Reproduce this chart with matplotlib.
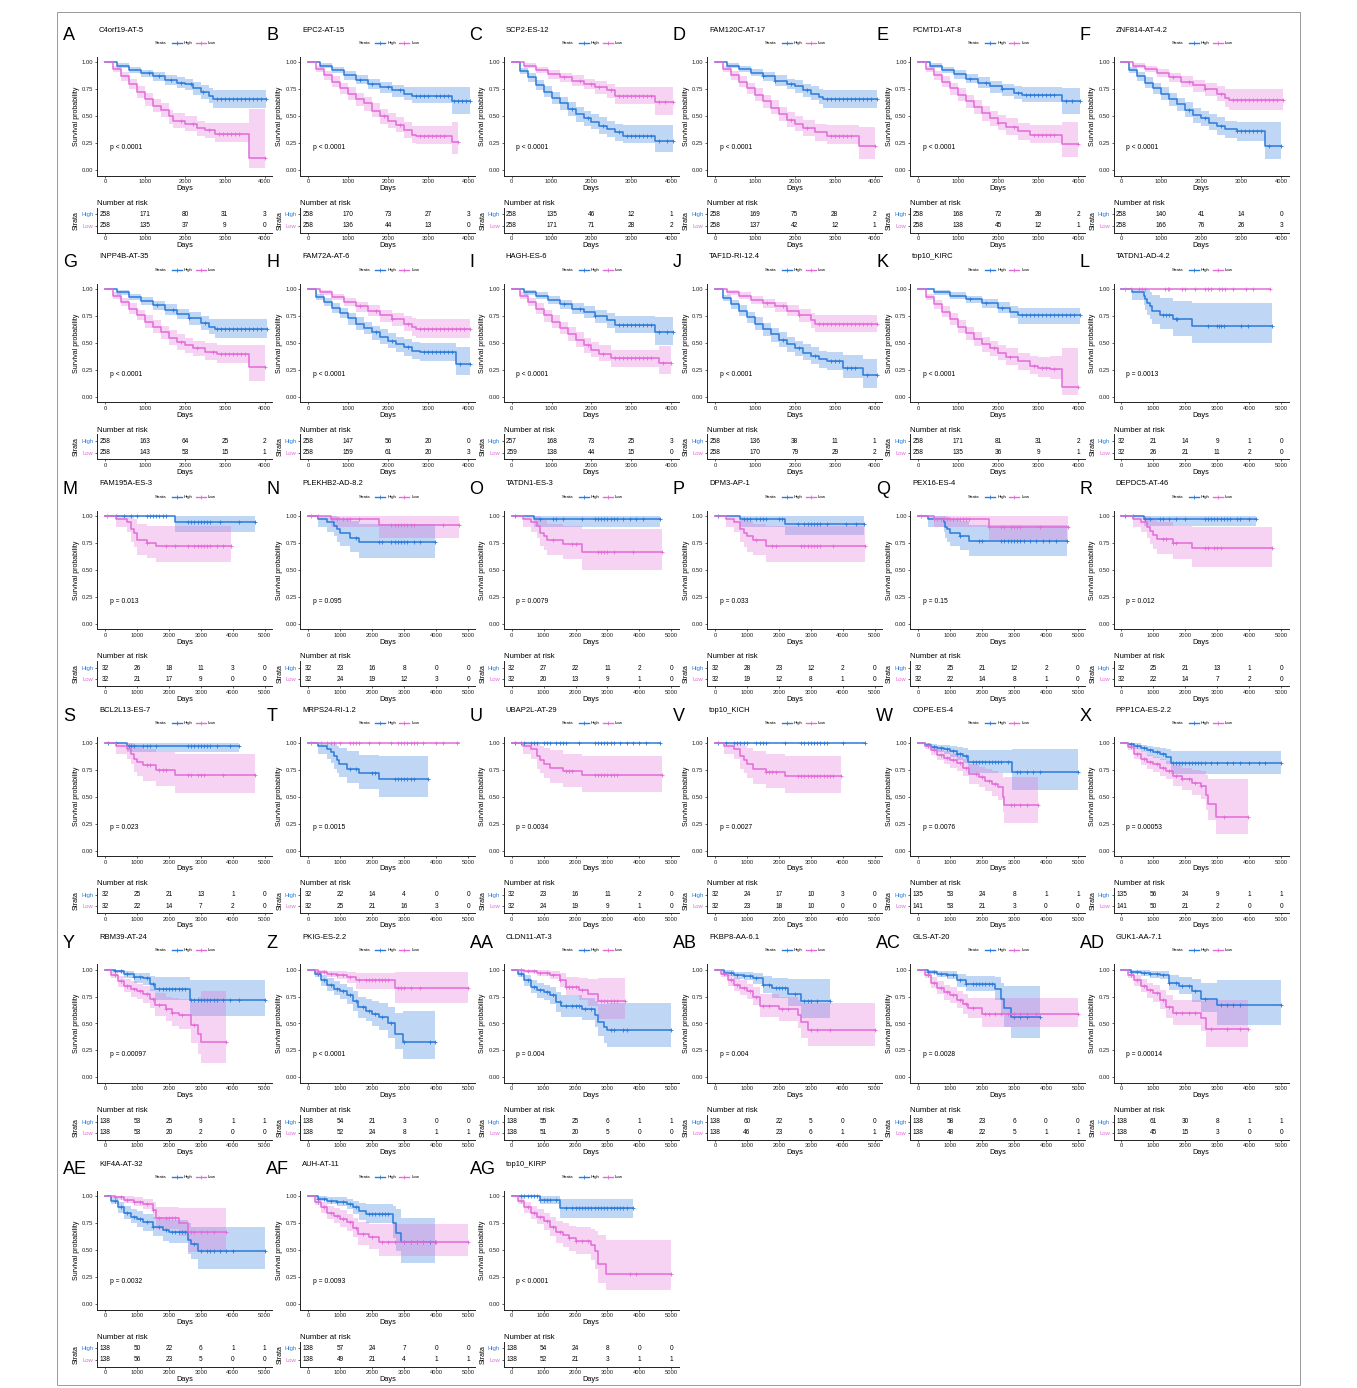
import matplotlib
matplotlib.use('Agg')
import matplotlib.pyplot as plt
from matplotlib.lines import Line2D
from matplotlib.patches import Rectangle
import numpy as np

plt.rcParams['font.family'] = ['Liberation Sans', 'DejaVu Sans']

# ---------------- panel meta data ----------------
letters = ['A','B','C','D','E','F','G','H','I','J','K','L','M','N','O','P','Q','R',
           'S','T','U','V','W','X','Y','Z','AA','AB','AC','AD','AE','AF','AG']
titles = ['C4orf19-AT-5','EPC2-AT-15','SCP2-ES-12','FAM120C-AT-17','PCMTD1-AT-8','ZNF814-AT-4.2',
          'INPP4B-AT-35','FAM72A-AT-6','HAGH-ES-6','TAF1D-RI-12.4','top10_KIRC','TATDN1-AD-4.2',
          'FAM195A-ES-3','PLEKHB2-AD-8.2','TATDN1-ES-3','DPM3-AP-1','PEX16-ES-4','DEPDC5-AT-46',
          'BCL2L13-ES-7','MRPS24-RI-1.2','UBAP2L-AT-29','top10_KICH','COPE-ES-4','PPP1CA-ES-2.2',
          'RBM39-AT-24','PKIG-ES-2.2','CLDN11-AT-3','FKBP8-AA-6.1','GLS-AT-20','GUK1-AA-7.1',
          'KIF4A-AT-32','AUH-AT-11','top10_KIRP']
pvals = ['p < 0.0001']*11 + ['p = 0.0013','p = 0.013','p = 0.095','p = 0.0079','p = 0.033',
         'p = 0.15','p = 0.012','p = 0.023','p = 0.0015','p = 0.0034','p = 0.0027','p = 0.0076',
         'p = 0.00053','p = 0.00097','p < 0.0001','p = 0.004','p = 0.004','p = 0.0028',
         'p = 0.00014','p = 0.0032','p = 0.0093','p < 0.0001']
xmax = [4000]*11 + [5000]*22

risk_high = [[258,171,80,31,3],[258,170,73,27,3],[258,135,46,12,1],[258,169,75,28,2],
             [258,168,72,28,2],[258,140,41,14,0],[258,163,64,25,2],[258,147,56,20,0],
             [257,168,73,25,3],[258,136,38,11,1],[258,171,81,31,2],[32,21,14,9,1,0],
             [32,26,18,11,3,0],[32,23,16,8,0,0],[32,27,22,11,2,0],[32,28,23,12,2,0],
             [32,25,21,12,2,0],[32,25,21,13,1,0],[32,25,21,13,1,0],[32,22,14,4,0,0],
             [32,23,16,11,2,0],[32,24,17,10,3,0],[135,53,24,8,1,1],[135,56,24,9,1,1],
             [138,53,25,9,1,1],[138,54,21,3,0,0],[138,55,25,6,1,1],[138,60,22,5,0,0],
             [138,58,23,6,0,0],[138,61,30,8,1,1],[138,50,22,6,1,1],[138,57,24,7,0,0],
             [138,54,24,8,0,0]]
risk_low = [[258,135,37,9,0],[258,136,44,13,0],[258,171,71,28,2],[258,137,42,12,1],
            [258,138,45,12,1],[258,166,76,26,3],[258,143,53,15,1],[258,159,61,20,3],
            [259,138,44,15,0],[258,170,79,29,2],[258,135,36,9,1],[32,26,21,11,2,0],
            [32,21,17,9,0,0],[32,24,19,12,3,0],[32,20,13,9,1,0],[32,19,12,8,1,0],
            [32,22,14,8,1,0],[32,22,14,7,2,0],[32,22,14,7,2,0],[32,25,21,16,3,0],
            [32,24,19,9,1,0],[32,23,18,10,0,0],[141,53,21,3,0,0],[141,50,21,2,0,0],
            [138,53,20,2,0,0],[138,52,24,8,1,1],[138,51,20,5,0,0],[138,46,23,6,1,1],
            [138,48,22,5,1,1],[138,45,15,3,0,0],[138,56,23,5,0,0],[138,49,21,4,1,1],
            [138,52,21,3,1,1]]

# ---------------- survival curves: (time, surv, lower, upper) ----------------
A_high = [(0,1,1,1),(300,.97,.95,.99),(600,.93,.90,.96),(900,.90,.86,.93),(1200,.87,.83,.91),(1500,.84,.79,.88),(1800,.81,.76,.86),(2000,.80,.74,.85),(2200,.76,.70,.82),(2400,.73,.66,.79),(2600,.69,.62,.76),(2700,.66,.58,.74),(4020,.66,.58,.74)]
A_low = [(0,1,1,1),(200,.94,.91,.97),(400,.87,.83,.91),(600,.80,.75,.85),(800,.73,.67,.78),(1000,.66,.60,.72),(1200,.60,.54,.66),(1400,.56,.49,.62),(1600,.50,.43,.56),(1700,.46,.39,.53),(2000,.43,.36,.50),(2300,.39,.32,.46),(2500,.37,.30,.44),(2750,.34,.26,.44),(3600,.11,.02,.57),(4000,.11,.02,.57)]
B_high = [(0,1,1,1),(300,.97,.95,.99),(600,.93,.90,.96),(900,.88,.84,.92),(1200,.84,.80,.88),(1500,.80,.75,.85),(1800,.77,.72,.82),(2100,.74,.68,.79),(2400,.71,.65,.77),(2600,.69,.62,.77),(3600,.64,.52,.77),(4050,.64,.52,.77)]
B_low = [(0,1,1,1),(200,.94,.91,.97),(400,.88,.84,.92),(600,.82,.77,.87),(800,.76,.71,.81),(1000,.71,.65,.77),(1200,.66,.60,.72),(1400,.62,.55,.68),(1600,.55,.49,.62),(1800,.50,.43,.57),(2000,.46,.39,.53),(2200,.42,.35,.49),(2400,.37,.30,.45),(2600,.33,.25,.41),(2700,.32,.24,.41),(3600,.26,.15,.45),(3750,.26,.15,.45)]
C_high = [(0,1,1,1),(200,.92,.89,.95),(400,.86,.82,.90),(600,.79,.74,.84),(800,.73,.68,.78),(1000,.67,.61,.73),(1200,.62,.56,.68),(1400,.57,.50,.63),(1600,.52,.45,.59),(1800,.48,.41,.55),(2000,.45,.38,.52),(2200,.41,.34,.49),(2400,.38,.31,.46),(2600,.35,.27,.43),(2800,.32,.25,.42),(3600,.27,.17,.42),(4050,.27,.17,.42)]
C_low = [(0,1,1,1),(300,.97,.95,.99),(600,.93,.90,.96),(900,.89,.85,.93),(1200,.86,.82,.90),(1500,.83,.78,.88),(1800,.80,.75,.85),(2100,.77,.71,.83),(2400,.74,.67,.80),(2600,.69,.61,.77),(3600,.63,.51,.77),(4050,.63,.51,.77)]
D_high = [(0,1,1,1),(300,.97,.95,.99),(600,.94,.91,.97),(900,.90,.87,.94),(1200,.87,.83,.91),(1500,.83,.78,.88),(1800,.80,.75,.85),(2000,.78,.72,.84),(2200,.74,.68,.80),(2400,.71,.65,.78),(2600,.68,.61,.75),(2700,.66,.58,.74),(4050,.66,.58,.74)]
D_low = [(0,1,1,1),(200,.94,.91,.97),(400,.88,.84,.92),(600,.82,.77,.87),(800,.76,.71,.81),(1000,.70,.64,.76),(1200,.64,.58,.70),(1400,.58,.52,.65),(1600,.52,.46,.59),(1800,.47,.40,.54),(2000,.43,.36,.50),(2200,.39,.32,.47),(2500,.35,.27,.43),(2800,.32,.24,.42),(3600,.22,.10,.40),(4000,.22,.10,.40)]
E_high = [(0,1,1,1),(300,.97,.95,.99),(600,.93,.90,.96),(900,.89,.85,.93),(1200,.85,.81,.89),(1500,.81,.76,.86),(1800,.78,.72,.83),(2100,.75,.69,.80),(2400,.72,.66,.78),(2600,.70,.63,.77),(3600,.64,.52,.76),(4050,.64,.52,.76)]
E_low = [(0,1,1,1),(200,.94,.91,.97),(400,.88,.84,.92),(600,.82,.77,.87),(800,.76,.70,.81),(1000,.70,.64,.76),(1200,.64,.58,.70),(1400,.59,.52,.65),(1600,.53,.46,.60),(1800,.48,.41,.55),(2000,.44,.37,.51),(2200,.40,.33,.48),(2500,.36,.28,.44),(2800,.33,.25,.42),(3600,.24,.12,.45),(4000,.24,.12,.45)]
F_high = [(0,1,1,1),(200,.93,.90,.96),(400,.87,.83,.91),(600,.81,.76,.86),(800,.76,.71,.81),(1000,.71,.65,.77),(1200,.66,.60,.72),(1400,.61,.55,.67),(1600,.56,.49,.63),(1800,.51,.44,.58),(2000,.48,.41,.55),(2200,.44,.37,.52),(2400,.41,.33,.49),(2600,.38,.30,.46),(2900,.36,.27,.45),(3600,.22,.10,.45),(4000,.22,.10,.45)]
F_low = [(0,1,1,1),(300,.97,.95,.99),(600,.94,.91,.97),(900,.90,.86,.94),(1200,.86,.82,.90),(1500,.82,.77,.87),(1800,.79,.73,.84),(2100,.75,.69,.81),(2400,.71,.64,.78),(2600,.67,.59,.75),(2700,.65,.56,.75),(4050,.65,.56,.75)]
G_high = [(0,1,1,1),(300,.97,.95,.99),(600,.93,.90,.96),(900,.89,.85,.93),(1200,.85,.81,.89),(1500,.81,.76,.86),(1800,.77,.72,.82),(2100,.73,.67,.79),(2400,.69,.62,.75),(2600,.65,.58,.72),(2750,.63,.55,.72),(4050,.63,.55,.72)]
G_low = [(0,1,1,1),(200,.94,.91,.97),(400,.88,.84,.92),(600,.82,.77,.87),(800,.76,.71,.81),(1000,.70,.64,.76),(1200,.65,.59,.71),(1400,.60,.54,.66),(1600,.55,.48,.62),(1800,.51,.44,.58),(2000,.48,.41,.55),(2200,.45,.38,.52),(2500,.42,.34,.50),(2800,.40,.32,.48),(3600,.28,.15,.48),(4000,.28,.15,.48)]
H_high = [(0,1,1,1),(200,.93,.90,.96),(400,.88,.84,.92),(600,.83,.78,.87),(800,.78,.73,.83),(1000,.73,.67,.78),(1200,.68,.62,.74),(1400,.64,.58,.70),(1600,.60,.53,.66),(1800,.56,.49,.63),(2000,.52,.45,.59),(2200,.49,.42,.56),(2400,.46,.38,.54),(2600,.43,.35,.51),(2800,.42,.33,.50),(3700,.31,.20,.46),(4050,.31,.20,.46)]
H_low = [(0,1,1,1),(300,.97,.95,.99),(600,.93,.90,.96),(900,.88,.84,.92),(1200,.84,.79,.88),(1500,.80,.75,.85),(1800,.76,.70,.81),(2100,.72,.66,.78),(2400,.68,.61,.75),(2600,.65,.57,.73),(2700,.63,.55,.72),(4050,.63,.55,.72)]
I_high = [(0,1,1,1),(300,.97,.95,.99),(600,.94,.91,.97),(900,.90,.86,.94),(1200,.86,.82,.90),(1500,.82,.77,.87),(1800,.79,.73,.84),(2100,.75,.69,.81),(2400,.71,.64,.78),(2600,.67,.59,.75),(3600,.60,.48,.74),(4050,.60,.48,.74)]
I_low = [(0,1,1,1),(200,.94,.91,.97),(400,.88,.84,.92),(600,.82,.77,.87),(800,.76,.70,.81),(1000,.70,.64,.76),(1200,.64,.58,.70),(1400,.58,.52,.65),(1600,.53,.46,.60),(1800,.48,.41,.55),(2000,.44,.37,.51),(2200,.40,.33,.48),(2500,.36,.28,.44),(3700,.32,.21,.47),(4000,.32,.21,.47)]
J_high = [(0,1,1,1),(200,.92,.89,.95),(400,.86,.82,.90),(600,.80,.75,.85),(800,.74,.69,.79),(1000,.68,.62,.74),(1200,.63,.57,.69),(1400,.58,.51,.64),(1600,.53,.46,.60),(1800,.49,.42,.56),(2000,.45,.38,.52),(2200,.41,.34,.49),(2400,.38,.31,.46),(2600,.35,.27,.43),(2800,.33,.25,.42),(3200,.27,.18,.39),(3700,.20,.08,.35),(4050,.20,.08,.35)]
J_low = [(0,1,1,1),(300,.97,.95,.99),(600,.94,.91,.97),(900,.90,.86,.94),(1200,.87,.83,.91),(1500,.84,.79,.88),(1800,.80,.75,.85),(2100,.76,.70,.82),(2400,.71,.64,.78),(2500,.68,.60,.76),(4050,.68,.60,.76)]
K_high = [(0,1,1,1),(400,.97,.95,.99),(800,.94,.91,.97),(1200,.91,.87,.94),(1600,.87,.83,.91),(2000,.83,.78,.88),(2300,.79,.73,.84),(2500,.76,.68,.83),(4050,.76,.68,.83)]
K_low = [(0,1,1,1),(200,.93,.90,.96),(400,.86,.82,.90),(600,.79,.74,.84),(800,.72,.67,.78),(1000,.65,.59,.71),(1200,.59,.53,.65),(1400,.54,.47,.60),(1600,.49,.42,.56),(1800,.45,.38,.52),(2000,.41,.34,.48),(2200,.37,.30,.45),(2500,.33,.25,.41),(2800,.29,.21,.38),(3000,.27,.19,.37),(3300,.26,.17,.38),(3600,.09,.02,.45),(4000,.09,.02,.45)]
L_high = [(0,1,1,1),(330,.97,.90,1),(700,.94,.85,1),(750,.91,.81,1),(800,.875,.76,.99),(900,.84,.72,.97),(950,.80,.68,.95),(1200,.76,.63,.92),(1600,.72,.57,.89),(2200,.66,.50,.87),(4700,.66,.50,.87)]
L_low = [(0,1,1,1),(4650,1,1,1)]
M_high = [(0,1,1,1),(2200,.94,.85,1),(4700,.94,.85,1)]
M_low = [(0,1,1,1),(350,.97,.90,1),(700,.94,.85,1),(800,.875,.76,.99),(900,.84,.71,.97),(1000,.78,.64,.93),(1300,.75,.61,.91),(1600,.72,.57,.91),(3950,.72,.57,.91)]
N_high = [(0,1,1,1),(300,.97,.90,1),(600,.94,.85,1),(800,.91,.81,1),(900,.875,.76,.99),(1000,.84,.72,.97),(1300,.80,.67,.95),(1600,.76,.61,.93),(3950,.76,.61,.93)]
N_low = [(0,1,1,1),(700,.97,.90,1),(2200,.92,.80,1),(4700,.92,.80,1)]
O_high = [(0,1,1,1),(700,.97,.90,1),(4650,.97,.90,1)]
O_low = [(0,1,1,1),(350,.97,.90,1),(600,.94,.85,1),(800,.91,.80,1),(900,.84,.72,.97),(1000,.81,.68,.96),(1100,.78,.64,.93),(1600,.74,.60,.91),(2200,.67,.50,.88),(4700,.67,.50,.88)]
P_high = [(0,1,1,1),(800,.97,.90,1),(2200,.93,.82,1),(4650,.93,.82,1)]
P_low = [(0,1,1,1),(350,.97,.90,1),(600,.94,.85,1),(800,.875,.76,.99),(900,.84,.71,.97),(1000,.81,.67,.95),(1200,.78,.64,.93),(1600,.72,.57,.91),(4700,.72,.57,.91)]
Q_high = [(0,1,1,1),(300,.97,.90,1),(800,.94,.85,1),(850,.90,.80,1),(900,.875,.76,.99),(1000,.84,.72,.97),(1300,.81,.68,.95),(1600,.77,.63,.92),(4650,.77,.63,.92)]
Q_low = [(0,1,1,1),(500,.97,.90,1),(2200,.90,.78,1),(4700,.90,.78,1)]
R_high = [(0,1,1,1),(700,.97,.91,1),(4200,.97,.91,1)]
R_low = [(0,1,1,1),(350,.97,.90,1),(600,.94,.85,1),(800,.90,.80,1),(900,.86,.74,.98),(1000,.82,.69,.96),(1100,.79,.65,.94),(1600,.75,.60,.91),(2200,.70,.53,.90),(4700,.70,.53,.90)]
S_high = [(0,1,1,1),(700,.97,.91,1),(4200,.97,.91,1)]
S_low = [(0,1,1,1),(350,.97,.90,1),(700,.94,.85,1),(800,.90,.80,1),(900,.85,.73,.98),(1000,.82,.69,.96),(1200,.79,.65,.94),(1600,.75,.60,.91),(2200,.70,.53,.90),(4700,.70,.53,.90)]
T_high = [(0,1,1,1),(300,.97,.90,1),(600,.94,.85,1),(700,.91,.81,1),(800,.875,.76,.99),(900,.84,.72,.97),(950,.80,.68,.95),(1200,.76,.63,.92),(1600,.72,.57,.89),(2200,.66,.50,.88),(3750,.66,.50,.88)]
T_low = [(0,1,1,1),(4700,1,1,1)]
U_high = [(0,1,1,1),(4650,1,1,1)]
U_low = [(0,1,1,1),(350,.97,.90,1),(600,.94,.85,1),(800,.875,.76,.99),(900,.84,.72,.97),(1000,.80,.67,.95),(1200,.77,.63,.93),(1600,.74,.59,.90),(2200,.70,.54,.88),(4700,.70,.54,.88)]
V_high = [(0,1,1,1),(4700,1,1,1)]
V_low = [(0,1,1,1),(300,.97,.90,1),(600,.94,.85,1),(800,.875,.76,.99),(900,.84,.72,.97),(1000,.80,.67,.95),(1200,.76,.62,.92),(1600,.73,.58,.90),(2200,.69,.53,.88),(3950,.69,.53,.88)]
W_high = [(0,1,1,1),(200,.98,.96,1),(400,.96,.93,.99),(600,.95,.91,.98),(800,.94,.90,.98),(1000,.92,.87,.97),(1200,.90,.84,.96),(1400,.88,.81,.95),(1550,.82,.72,.93),(2950,.73,.56,.94),(5000,.73,.56,.94)]
W_low = [(0,1,1,1),(200,.97,.94,1),(400,.93,.89,.97),(600,.89,.84,.94),(800,.86,.80,.92),(1000,.84,.77,.90),(1200,.81,.74,.88),(1400,.77,.69,.85),(1600,.71,.62,.80),(1900,.68,.59,.78),(2100,.65,.55,.76),(2300,.62,.51,.74),(2500,.59,.47,.72),(2650,.50,.36,.67),(2700,.42,.26,.68),(3750,.42,.26,.68)]
X_high = [(0,1,1,1),(200,.99,.97,1),(400,.97,.94,1),(600,.95,.91,.98),(800,.93,.88,.97),(1000,.91,.86,.96),(1200,.90,.84,.95),(1400,.87,.80,.94),(1550,.81,.71,.92),(5000,.81,.71,.92)]
X_low = [(0,1,1,1),(200,.96,.93,.99),(400,.90,.85,.95),(600,.85,.79,.91),(800,.82,.76,.89),(1000,.80,.73,.87),(1200,.77,.69,.85),(1400,.74,.66,.83),(1600,.69,.60,.79),(1900,.66,.56,.77),(2200,.63,.52,.75),(2500,.60,.48,.74),(2650,.52,.38,.70),(2700,.43,.28,.66),(2950,.31,.15,.66),(3950,.31,.15,.66)]
Y_high = [(0,1,1,1),(300,.99,.97,1),(600,.96,.92,.99),(900,.93,.88,.97),(1200,.92,.86,.97),(1400,.87,.80,.94),(1550,.82,.72,.93),(2650,.72,.57,.90),(5000,.72,.57,.90)]
Y_low = [(0,1,1,1),(200,.95,.92,.99),(400,.89,.84,.94),(600,.85,.79,.91),(800,.82,.75,.89),(1000,.80,.73,.87),(1200,.77,.69,.85),(1400,.73,.64,.82),(1550,.67,.57,.78),(1900,.63,.52,.75),(2100,.60,.48,.74),(2300,.58,.45,.73),(2700,.49,.32,.70),(2900,.40,.22,.75),(3000,.33,.13,.80),(3800,.33,.13,.80)]
Z_high = [(0,1,1,1),(200,.96,.93,.99),(400,.90,.85,.95),(600,.86,.80,.92),(800,.82,.76,.89),(1000,.80,.73,.87),(1200,.76,.68,.84),(1400,.71,.62,.80),(1550,.65,.55,.75),(1800,.62,.52,.73),(2000,.59,.48,.71),(2200,.56,.44,.69),(2500,.50,.37,.65),(2700,.40,.26,.60),(2950,.33,.17,.62),(3950,.33,.17,.62)]
Z_low = [(0,1,1,1),(300,.98,.96,1),(600,.96,.93,.99),(900,.95,.91,.99),(1200,.93,.88,.98),(1500,.90,.82,.97),(2700,.83,.69,.98),(5000,.83,.69,.98)]
AA_high = [(0,1,1,1),(200,.96,.93,.99),(400,.90,.85,.95),(600,.84,.78,.90),(800,.81,.74,.88),(1000,.79,.72,.86),(1200,.76,.68,.84),(1400,.70,.61,.79),(1550,.66,.56,.76),(2200,.63,.53,.74),(2600,.58,.47,.71),(2700,.51,.38,.68),(2900,.47,.32,.68),(3000,.44,.28,.69),(5000,.44,.28,.69)]
AA_low = [(0,1,1,1),(400,.99,.97,1),(800,.97,.94,1),(1200,.95,.91,.99),(1500,.90,.84,.97),(1700,.84,.76,.93),(2100,.81,.72,.92),(2400,.77,.66,.91),(2700,.71,.54,.92),(3550,.71,.54,.92)]
AB_high = [(0,1,1,1),(300,.97,.94,1),(600,.95,.91,.98),(900,.94,.90,.98),(1200,.92,.87,.97),(1500,.86,.78,.94),(1800,.83,.74,.92),(2300,.77,.66,.91),(2700,.71,.55,.91),(3600,.71,.55,.91)]
AB_low = [(0,1,1,1),(200,.96,.93,.99),(400,.90,.85,.95),(600,.86,.80,.92),(800,.83,.76,.90),(1000,.80,.73,.87),(1200,.75,.67,.84),(1400,.66,.56,.77),(2000,.63,.52,.75),(2600,.58,.46,.72),(2700,.51,.37,.69),(2900,.44,.29,.69),(5000,.44,.29,.69)]
AC_high = [(0,1,1,1),(300,.98,.96,1),(600,.96,.93,.99),(900,.95,.91,.99),(1200,.90,.84,.96),(1500,.87,.80,.94),(2400,.82,.72,.93),(2600,.73,.59,.88),(2700,.64,.47,.85),(2900,.56,.37,.85),(3800,.56,.37,.85)]
AC_low = [(0,1,1,1),(200,.95,.92,.99),(400,.88,.83,.93),(600,.83,.77,.89),(800,.79,.72,.86),(1000,.76,.69,.84),(1200,.72,.64,.80),(1400,.68,.59,.77),(1550,.64,.55,.74),(2000,.59,.47,.74),(5000,.59,.47,.74)]
AD_high = [(0,1,1,1),(300,.98,.96,1),(600,.97,.94,1),(900,.96,.92,.99),(1200,.95,.91,.99),(1500,.88,.81,.95),(1800,.85,.77,.93),(2200,.80,.70,.91),(2500,.73,.61,.88),(3000,.67,.49,.90),(5000,.67,.49,.90)]
AD_low = [(0,1,1,1),(200,.95,.92,.99),(400,.90,.85,.95),(600,.85,.79,.91),(800,.81,.74,.88),(1000,.78,.70,.86),(1200,.72,.63,.81),(1400,.65,.55,.76),(1600,.60,.49,.72),(2500,.55,.43,.71),(2650,.45,.28,.72),(3950,.45,.28,.72)]
AE_high = [(0,1,1,1),(200,.96,.93,.99),(400,.90,.85,.95),(600,.85,.79,.91),(800,.81,.75,.88),(1000,.79,.72,.86),(1200,.76,.68,.84),(1500,.72,.63,.81),(1800,.69,.59,.79),(2000,.67,.57,.78),(2600,.60,.47,.75),(2700,.56,.42,.72),(2900,.49,.33,.72),(5000,.49,.33,.72)]
AE_low = [(0,1,1,1),(300,.99,.97,1),(600,.97,.94,1),(900,.95,.91,.99),(1200,.93,.88,.98),(1500,.87,.79,.95),(1600,.80,.70,.90),(2300,.75,.63,.89),(2600,.67,.48,.89),(3800,.67,.48,.89)]
AF_high = [(0,1,1,1),(300,.98,.96,1),(600,.96,.93,.99),(900,.95,.91,.99),(1200,.93,.88,.98),(1400,.90,.84,.96),(1600,.86,.78,.94),(1800,.84,.75,.93),(2650,.75,.61,.91),(2750,.66,.49,.88),(2900,.58,.38,.80),(3950,.58,.38,.80)]
AF_low = [(0,1,1,1),(200,.95,.92,.99),(400,.90,.85,.95),(600,.85,.79,.91),(800,.82,.75,.89),(1000,.79,.72,.87),(1200,.76,.68,.84),(1400,.71,.62,.80),(1550,.65,.55,.76),(1900,.62,.51,.74),(2200,.58,.45,.74),(5000,.58,.45,.74)]
AG_high = [(0,1,1,1),(900,.97,.93,1),(1500,.89,.80,.98),(3800,.89,.80,.98)]
AG_low = [(0,1,1,1),(200,.96,.93,.99),(400,.90,.85,.95),(600,.85,.79,.91),(800,.81,.74,.88),(1000,.77,.69,.85),(1200,.72,.63,.81),(1400,.67,.57,.77),(1600,.64,.53,.75),(1800,.61,.49,.73),(2000,.59,.47,.72),(2500,.55,.41,.70),(2600,.49,.33,.68),(2700,.37,.20,.64),(2950,.28,.13,.60),(5000,.28,.13,.60)]

# ---------------- censoring times ----------------
A_high_c = [1100,1350,1650,1900,2150,2450,2800,2900,3000,3100,3200,3300,3400,3500,3600,3700,3800,3900,4020]
A_low_c = [1900,2200,2600,2850,2950,3050,3150,3250,3350,4000]
B_high_c = [1300,1600,2000,2300,2700,2800,2900,3000,3200,3300,3400,3500,3650,3750,3850,3950,4050]
B_low_c = [1900,2300,2800,2900,3000,3100,3200,3300,3400,3750]
C_high_c = [1500,1900,2300,2700,2900,3000,3100,3200,3300,3400,3500,3700,3900,4050]
C_low_c = [1300,1700,2000,2200,2500,2700,2800,2900,3000,3100,3200,3300,3400,3500,3700,3850,4050]
D_high_c = [1200,1500,1900,2300,2800,2900,3000,3100,3200,3300,3400,3500,3600,3700,3800,3900,4050]
D_low_c = [1900,2300,2900,3000,3100,3200,3300,3400,4000]
E_high_c = [1300,1700,2100,2500,2700,2800,2900,3000,3100,3200,3300,3400,3700,3850,4050]
E_low_c = [2000,2400,2900,3000,3100,3200,3300,3400,4000]
F_high_c = [1700,2100,2500,2900,3000,3100,3200,3300,3400,3500,3700,4000]
F_low_c = [1300,1700,2100,2500,2800,2900,3000,3100,3200,3300,3400,3500,3600,3700,3800,3900,4050]
G_high_c = [1300,1700,2100,2500,2800,2900,3000,3100,3200,3300,3400,3500,3600,3700,3800,3900,4050]
G_low_c = [1900,2300,2700,2900,3000,3100,3200,3300,3400,3500,4000]
H_high_c = [1700,2100,2500,2900,3000,3100,3200,3300,3400,3500,3600,3800,4050]
H_low_c = [1300,1700,2100,2500,2800,2900,3000,3100,3200,3300,3400,3500,3600,3700,3800,3900,4050]
I_high_c = [1300,1700,2100,2700,2800,2900,3000,3100,3200,3300,3400,3500,3700,3900,4050]
I_low_c = [1900,2300,2600,2700,2800,2900,3000,3100,3200,3300,3400,3500,3800,4000]
J_high_c = [1700,2100,2500,2900,3000,3100,3300,3400,3500,3800,4050]
J_low_c = [1300,1700,2100,2600,2700,2800,2900,3000,3100,3200,3300,3400,3500,3600,3700,3800,3900,4050]
K_high_c = [1300,1700,2100,2600,2700,2800,2900,3000,3100,3200,3300,3400,3500,3600,3700,3800,3900,4050]
K_low_c = [1900,2300,2900,3100,3200,3400,4000]
L_high_c = [1300,1400,1500,1700,1750,2700,3000,3050,3100,3200,3750,3950,4700]
L_low_c = [100,300,550,650,750,1350,1450,1500,1900,2000,2300,2600,2700,2800,3050,3150,3250,3500,3900,4100,4650]
M_high_c = [350,600,800,1000,1300,1400,1500,1600,1700,1800,1900,2600,2700,2800,2900,3000,3100,3200,3300,3600,4200,4700]
M_low_c = [50,1300,1900,2200,2600,2800,2900,3000,3100,3200,3300,3500,3700,3950]
N_high_c = [1500,2200,2300,2600,2700,2800,2900,3000,3100,3300,3500,3950]
N_low_c = [100,300,750,900,1100,1200,1300,1600,2600,2700,2800,2900,3000,3100,3200,3300,4200,4700]
O_high_c = [100,900,1300,1400,1600,2200,2600,2700,2800,2900,3000,3100,3200,3300,3500,3700,3900,4100,4650]
O_low_c = [1300,1900,2000,2700,2800,2900,3000,3200,3800,4700]
P_high_c = [100,900,1000,1100,1300,1400,1500,1600,2000,2100,2600,2800,2900,3000,3100,3200,3300,3500,4100,4400,4650]
P_low_c = [1300,1800,1900,2700,2800,2900,3000,3100,3200,3300,3700,4700]
Q_high_c = [1300,1900,2000,2600,2700,2800,2900,3000,3100,3200,3300,3500,3700,3900,4100,4300,4650]
Q_low_c = [100,500,600,700,800,900,1000,1100,1200,1300,1400,1500,1600,2200,2600,2700,2900,3000,3100,3200,3800,4700]
R_high_c = [100,350,750,900,1200,1300,1500,1700,2000,2600,2700,2800,2900,3000,3100,3200,3300,3400,3600,3700,4000,4200]
R_low_c = [1300,1400,1600,1700,2600,2700,2900,3000,3100,4700]
S_high_c = [100,350,750,800,900,1200,1300,1400,1600,2600,2700,2800,2900,3000,3100,3200,3300,3500,3900,4200]
S_low_c = [1300,1400,1700,1800,1900,2600,2700,2900,3000,3100,3700,4700]
T_high_c = [1300,1500,2000,2100,2700,2800,2900,3000,3100,3200,3300,3750]
T_low_c = [100,400,600,700,800,1000,1300,1400,1500,1600,1900,2200,2600,2800,2900,3000,3100,3200,3300,3400,3600,4000,4200,4650]
U_high_c = [100,300,400,600,700,800,1000,1100,1200,1400,1500,1600,1700,2100,2600,2700,2800,2900,3000,3100,3200,3400,3600,3800,4000,4200,4650]
U_low_c = [1700,1800,1900,2600,2700,2800,2900,3000,3100,3200,3300,4700]
V_high_c = [100,350,600,700,800,900,1000,1300,1400,1500,1600,2200,2700,2800,2900,3000,3100,3200,3300,3400,3500,4000,4700]
V_low_c = [1600,1700,1800,1900,2600,2700,2800,2900,3000,3100,3200,3300,3400,3500,3600,3700,3950]
W_high_c = [300,500,700,900,1100,1200,1300,1500,1700,1800,1900,2000,2100,2200,2300,2400,2500,2600,2800,3100,3200,3400,3600,3800,5000]
W_low_c = [300,500,700,900,1100,1300,1500,1800,2000,2200,2400,2900,3000,3200,3400,3750]
X_high_c = [300,500,700,900,1100,1300,1600,1700,1800,1900,2000,2100,2200,2300,2400,2500,2600,2800,3000,3300,3500,3700,4000,4300,4500,5000]
X_low_c = [300,500,700,900,1100,1300,1500,1700,1900,2100,2300,2500,3200,3950]
Y_high_c = [300,500,700,900,1100,1300,1500,1700,1800,1900,2000,2100,2200,2300,2400,2500,2700,2800,2900,3000,3100,3200,3300,3400,3500,3700,3900,4200,5000]
Y_low_c = [300,500,700,900,1100,1300,1500,1700,1900,2100,2400,2800,3800]
Z_high_c = [300,500,700,900,1100,1300,1500,1700,1900,2100,2300,2600,3000,3800,3950]
Z_low_c = [300,500,700,900,1100,1300,1600,1800,1900,2000,2100,2200,2300,2400,2500,2800,2900,3000,3200,3500,5000]
AA_high_c = [300,500,700,900,1100,1300,1500,1700,1900,2000,2100,2300,2500,3100,3200,3500,3600,5000]
AA_low_c = [300,500,700,900,1100,1300,1500,1700,1800,1900,2000,2200,2800,2900,3000,3100,3200,3300,3550]
AB_high_c = [300,500,700,900,1100,1300,1500,1700,1900,2000,2100,2200,2500,2800,2900,3000,3200,3600]
AB_low_c = [300,500,700,900,1100,1300,1500,1700,2100,2300,3000,3200,3600,5000]
AC_high_c = [300,500,700,900,1100,1300,1500,1700,1800,1900,2000,2100,2200,2300,3000,3200,3400,3800]
AC_low_c = [300,500,700,900,1100,1300,1500,1700,2100,2200,2400,2600,2800,3000,3200,3400,3700,5000]
AD_high_c = [300,500,700,900,1100,1300,1500,1700,1900,2100,2300,2600,3100,3300,3500,3700,5000]
AD_low_c = [300,500,700,900,1100,1300,1500,1700,1900,2100,2300,2800,3300,3700,3950]
AE_high_c = [300,500,700,900,1100,1300,1500,1700,1900,2100,2200,2300,2400,2500,2800,3000,3200,3300,3400,3600,3800,4000,5000]
AE_low_c = [300,500,700,900,1100,1300,1500,1700,1900,2000,2100,2200,2700,2800,3000,3200,3400,3800]
AF_high_c = [300,500,700,900,1100,1300,1500,1900,2000,2100,2200,2300,2400,2500,3000,3200,3400,3600,3800,3950]
AF_low_c = [300,500,700,900,1100,1300,1500,1700,2000,2300,2500,2700,3000,3200,3400,3600,4000,5000]
AG_high_c = [300,400,500,600,700,800,900,1000,1100,1200,1400,1700,1900,2000,2100,2200,2300,2400,2500,2600,2700,2800,2900,3000,3100,3200,3300,3400,3500,3600,3800]
AG_low_c = [300,500,700,900,1100,1300,1500,1800,2000,2200,2400,3700,3900,5000]

g = globals()
curves_high = [g[L + '_high'] for L in letters]
curves_low = [g[L + '_low'] for L in letters]
cens_high = [g[L + '_high_c'] for L in letters]
cens_low = [g[L + '_low_c'] for L in letters]

# ---------------- styling ----------------
W, H = 1357, 1388
BLUE = '#2B7BDB'
PINK = '#E36CD8'
fig = plt.figure(figsize=(W / 100, H / 100), dpi=100)
fig.patch.set_facecolor('white')


def fx(x):
    return x / W


def fy(y):
    return 1 - y / H


def draw_curve(ax, pts, cens, col):
    t = np.array([p[0] for p in pts], dtype=float)
    s = np.array([p[1] for p in pts], dtype=float)
    lo = np.array([p[2] for p in pts], dtype=float)
    hi = np.array([p[3] for p in pts], dtype=float)
    ax.fill_between(t, lo, hi, step='post', color=col, alpha=0.3, lw=0)
    ax.step(t, s, where='post', color=col, lw=1.1)
    ct = np.array(cens, dtype=float)
    idx = np.clip(np.searchsorted(t, ct, side='right') - 1, 0, len(s) - 1)
    ax.plot(ct, s[idx], '+', color=col, ms=3.0, mew=0.6, ls='none')


def style_axis(ax):
    for sp in ['top', 'right']:
        ax.spines[sp].set_visible(False)
    for sp in ['left', 'bottom']:
        ax.spines[sp].set_linewidth(0.7)
        ax.spines[sp].set_color('#222222')
    ax.tick_params(labelsize=4.2, length=1.6, width=0.5, pad=1, colors='#222222')


for i, L in enumerate(letters):
    r, c = divmod(i, 6)
    X = xmax[i]
    axl = 97 + 203.3 * c
    axw = 175
    axt = 57 + 226.8 * r
    axb = 175.6 + 226.8 * r
    ax = fig.add_axes([fx(axl), fy(axb), axw / W, (axb - axt) / H])
    draw_curve(ax, curves_high[i], cens_high[i], BLUE)
    draw_curve(ax, curves_low[i], cens_low[i], PINK)
    ax.set_xlim(-0.05 * X, 1.045 * X)
    ax.set_ylim(-0.05, 1.05)
    ax.set_yticks([0, 0.25, 0.5, 0.75, 1.0])
    ax.set_yticklabels(['0.00', '0.25', '0.50', '0.75', '1.00'])
    ax.set_xticks(list(range(0, X + 1, 1000)))
    style_axis(ax)
    ax.set_xlabel('Days', fontsize=5.3, labelpad=0.5)
    ax.set_ylabel('Survival probability', fontsize=5, labelpad=1.5)
    ax.text(0.03 * X, 0.21, pvals[i], fontsize=4.9, ha='left', va='center')

    # panel letter and title
    fig.text(fx(axl - 34), fy(axt - 21), L, fontsize=13, ha='left', va='center')
    fig.text(fx(axl + 2), fy(axt - 27), titles[i], fontsize=5.5, ha='left', va='center')

    # legend
    ly = axt - 14
    fig.text(fx(axl + 58), fy(ly), 'Strata', fontsize=3.2, ha='left', va='center')
    for x0, col, lab in [(axl + 75, BLUE, 'High'), (axl + 99, PINK, 'Low')]:
        fig.add_artist(Line2D([fx(x0), fx(x0 + 10)], [fy(ly), fy(ly)], color=col, lw=1.0))
        fig.add_artist(Line2D([fx(x0 + 5)], [fy(ly)], color=col, marker='+', ms=2.8, mew=0.6))
        fig.text(fx(x0 + 12), fy(ly), lab, fontsize=3.2, ha='left', va='center')

    # risk table
    rt = axb + 32
    rb = axb + 57
    rax = fig.add_axes([fx(axl), fy(rb), axw / W, (rb - rt) / H])
    rax.set_xlim(-0.05 * X, 1.045 * X)
    rax.set_ylim(0.4, 2.6)
    ticks = list(range(0, X + 1, 1000))
    for k, tt in enumerate(ticks):
        rax.text(tt, 2, str(risk_high[i][k]), fontsize=4.7, ha='center', va='center')
        rax.text(tt, 1, str(risk_low[i][k]), fontsize=4.7, ha='center', va='center')
    rax.set_xticks(ticks)
    rax.set_yticks([1, 2])
    rax.set_yticklabels(['Low', 'High'])
    style_axis(rax)
    for lbl, col in zip(rax.get_yticklabels(), [PINK, BLUE]):
        lbl.set_color(col)
    rax.set_ylabel('Strata', fontsize=5, labelpad=1)
    rax.set_xlabel('Days', fontsize=5.3, labelpad=0.5)
    rax.set_title('Number at risk', loc='left', fontsize=5.6, pad=2)

# outer frame
fig.add_artist(Rectangle((fx(57), fy(1385)), (1300 - 57) / W, (1385 - 12) / H,
                         fill=False, ec='#9a9a9a', lw=0.7, transform=fig.transFigure))

fig.savefig('out.png', dpi=100, facecolor='white')
